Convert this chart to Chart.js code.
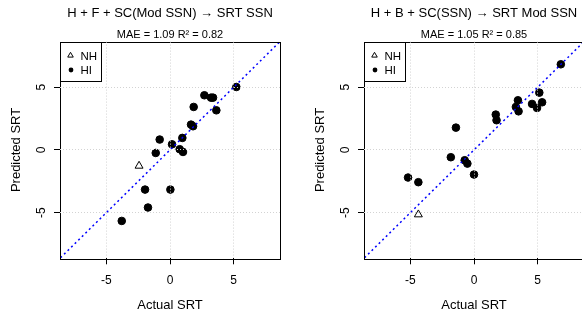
<!DOCTYPE html>
<html>
<head>
<meta charset="utf-8">
<script src="https://cdn.jsdelivr.net/npm/chart.js@4"></script>
<style>
html, body { margin: 0; padding: 0; background: #fff; overflow: hidden; }
#wrap { position: relative; width: 582px; height: 316px; overflow: hidden; }
.panel { position: absolute; top: 0; }
</style>
</head>
<body>
<div id="wrap">
  <canvas class="panel" id="left" width="291" height="316" style="left:0"></canvas>
  <canvas class="panel" id="right" width="291" height="316" style="left:304px"></canvas>
</div>
<script>
const tickVals = [-5, 0, 5];
const tickLabels = ['-5', '0', '5'];
const axisMin = -8.64, axisMax = 8.64;
const lineEnds = [-10, 10]; // y = x reference line

// panel 1: H + F + SC(Mod SSN) -> SRT SSN
const title1 = 'H + F + SC(Mod SSN) \u2192 SRT SSN';
const stats1 = 'MAE = 1.09 R\u00B2 = 0.82';
const hiActual1 = [5.21, 2.70, 3.22, 3.38, 3.64, 1.86, 1.65, 1.81, 0.97, -0.81, 0.16, 0.76, 1.02, -1.12, -1.96, 0.03, -1.73, -3.79];
const hiPred1   = [5.02, 4.36, 4.17, 4.17, 3.16, 3.43, 2.02, 1.89, 0.96, 0.83, 0.45, 0.06, -0.16, -0.24, -3.16, -3.16, -4.59, -5.66];
const nhActual1 = [-2.43];
const nhPred1   = [-1.27];

// panel 2: H + B + SC(SSN) -> SRT Mod SSN
const title2 = 'H + B + SC(SSN) \u2192 SRT Mod SSN';
const stats2 = 'MAE = 1.05 R\u00B2 = 0.85';
const hiActual2 = [6.82, 5.13, 5.35, 4.95, 4.56, 3.45, 3.29, 3.50, 1.71, 1.77, -1.42, -1.82, -0.73, -0.52, 0.00, -5.18, -4.37];
const hiPred2   = [6.83, 4.57, 3.80, 3.35, 3.67, 3.96, 3.43, 3.08, 2.82, 2.37, 1.78, -0.58, -0.82, -1.09, -1.96, -2.20, -2.57];
const nhActual2 = [-4.37];
const nhPred2   = [-5.15];

const legendLabels = ['NH', 'HI'];
const FONT = "'Liberation Sans', Arial, sans-serif";
Chart.defaults.font.family = FONT;
Chart.defaults.color = '#000';

function toPoints(xs, ys) {
    return xs.map((x, i) => ({ x: x, y: ys[i] }));
}

// black box round the plot, R style
const frame = {
    id: 'frame',
    afterDatasetsDraw(chart) {
        const a = chart.chartArea, ctx = chart.ctx;
        ctx.save();
        ctx.strokeStyle = '#000';
        ctx.lineWidth = 1;
        ctx.strokeRect(Math.round(a.left) + 0.5, Math.round(a.top) + 0.5,
            Math.round(a.right - a.left), Math.round(a.bottom - a.top));
        ctx.restore();
    }
};

// y tick labels turned like R's las=0
const yLabels = {
    id: 'yLabels',
    afterDraw(chart) {
        const ys = chart.scales.y, ctx = chart.ctx;
        ctx.save();
        ctx.font = '12px ' + FONT;
        ctx.fillStyle = '#000';
        ctx.textAlign = 'center';
        ctx.textBaseline = 'middle';
        tickVals.forEach((v, i) => {
            ctx.save();
            ctx.translate(ys.right - 18, ys.getPixelForValue(v));
            ctx.rotate(-Math.PI / 2);
            ctx.fillText(tickLabels[i], 0, 0);
            ctx.restore();
        });
        ctx.restore();
    }
};

// small boxed legend in the top left corner
const boxLegend = {
    id: 'boxLegend',
    afterDraw(chart) {
        const a = chart.chartArea, ctx = chart.ctx;
        const x0 = Math.round(a.left) + 0.5, y0 = Math.round(a.top) + 0.5;
        ctx.save();
        ctx.fillStyle = '#fff';
        ctx.fillRect(x0, y0, 41, 39);
        ctx.strokeStyle = '#000';
        ctx.lineWidth = 1;
        ctx.strokeRect(x0, y0, 41, 39);
        Chart.helpers.drawPoint(ctx, { pointStyle: 'triangle', radius: 3.2, borderWidth: 1 }, x0 + 10, y0 + 13);
        ctx.beginPath();
        ctx.arc(x0 + 10.5, y0 + 27.5, 2.4, 0, Math.PI * 2);
        ctx.fillStyle = '#000';
        ctx.fill();
        ctx.font = '11.5px ' + FONT;
        ctx.textBaseline = 'middle';
        ctx.textAlign = 'left';
        ctx.fillText(legendLabels[0], x0 + 20, y0 + 14);
        ctx.fillText(legendLabels[1], x0 + 20, y0 + 28);
        ctx.restore();
    }
};

function makePanel(id, title, stats, hiX, hiY, nhX, nhY) {
    new Chart(document.getElementById(id), {
        data: {
            datasets: [
                {
                    type: 'line',
                    data: toPoints(lineEnds, lineEnds),
                    borderColor: '#0000FF',
                    borderWidth: 1.5,
                    borderDash: [2, 3],
                    pointRadius: 0,
                    order: 0
                },
                {
                    type: 'scatter',
                    label: legendLabels[1],
                    data: toPoints(hiX, hiY),
                    pointStyle: 'circle',
                    pointRadius: 3.8,
                    backgroundColor: '#000',
                    borderColor: '#000',
                    borderWidth: 1,
                    order: 1
                },
                {
                    type: 'scatter',
                    label: legendLabels[0],
                    data: toPoints(nhX, nhY),
                    pointStyle: 'triangle',
                    pointRadius: 4.6,
                    backgroundColor: 'rgba(0,0,0,0)',
                    borderColor: '#000',
                    borderWidth: 1,
                    order: 1
                }
            ]
        },
        options: {
            responsive: false,
            animation: false,
            events: [],
            layout: { padding: { left: 0, right: 11, top: 0, bottom: 0 } },
            plugins: {
                legend: { display: false },
                tooltip: { enabled: false },
                title: {
                    display: true, text: title, fullSize: false, color: '#000',
                    font: { size: 13, weight: 'normal' },
                    padding: { top: 6, bottom: 4 }
                },
                subtitle: {
                    display: true, text: stats, fullSize: false, color: '#000',
                    font: { size: 11 },
                    padding: { top: 2.8, bottom: 0 }
                }
            },
            scales: {
                x: {
                    type: 'linear', min: axisMin, max: axisMax,
                    afterBuildTicks: s => { s.ticks = tickVals.map(v => ({ value: v })); },
                    afterFit: s => { s.height = 57.7; },
                    ticks: {
                        callback: v => tickLabels[tickVals.indexOf(v)],
                        font: { size: 12 }, color: '#000', padding: 9,
                        maxRotation: 0, autoSkip: false
                    },
                    grid: {
                        color: '#d3d3d3', lineWidth: 1, z: 1,
                        tickColor: '#000', tickLength: 6, tickWidth: 1, tickBorderDash: []
                    },
                    border: { display: false, dash: [1, 2] },
                    title: {
                        display: true, text: 'Actual SRT', color: '#000',
                        font: { size: 13 }, padding: { top: 0, bottom: 3 }
                    }
                },
                y: {
                    type: 'linear', min: axisMin, max: axisMax,
                    afterBuildTicks: s => { s.ticks = tickVals.map(v => ({ value: v })); },
                    afterFit: s => { s.width = 60; },
                    ticks: {
                        callback: v => tickLabels[tickVals.indexOf(v)],
                        font: { size: 12 }, color: 'rgba(0,0,0,0)', autoSkip: false
                    },
                    grid: {
                        color: '#d3d3d3', lineWidth: 1, z: 1,
                        tickColor: '#000', tickLength: 6, tickWidth: 1, tickBorderDash: []
                    },
                    border: { display: false, dash: [1, 2] },
                    title: {
                        display: true, text: 'Predicted SRT', color: '#000',
                        font: { size: 13 }, padding: { top: 9, bottom: 0 }
                    }
                }
            }
        },
        plugins: [frame, yLabels, boxLegend]
    });
}

makePanel('left', title1, stats1, hiActual1, hiPred1, nhActual1, nhPred1);
makePanel('right', title2, stats2, hiActual2, hiPred2, nhActual2, nhPred2);
</script>
</body>
</html>
